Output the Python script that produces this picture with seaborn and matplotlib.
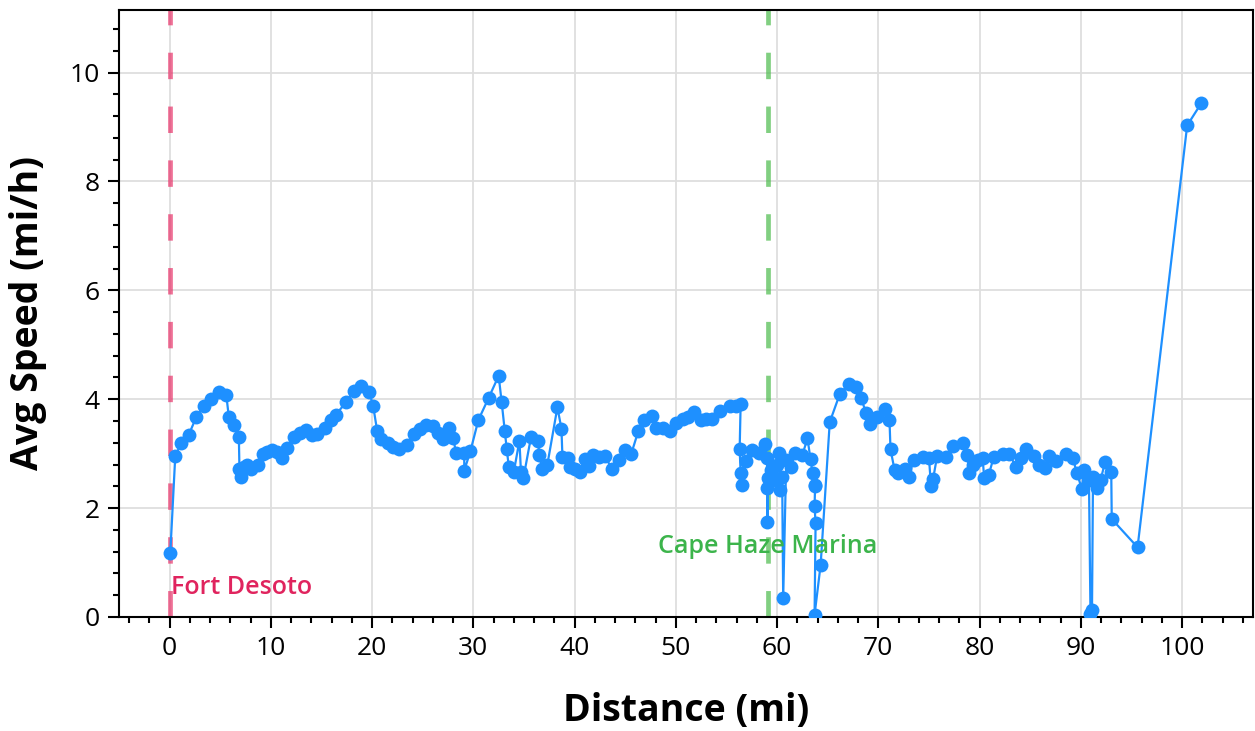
import matplotlib
matplotlib.use("Agg")
import matplotlib.pyplot as plt
from matplotlib.ticker import MultipleLocator
import seaborn as sns

distance_mi = [
    0.07, 0.56, 1.15, 1.9, 2.63, 3.36, 4.1, 4.87, 5.6, 5.85, 6.4, 6.84, 6.9, 7.07,
    7.35, 7.63, 8.06, 8.72, 9.2, 9.6, 10.1, 10.6, 11.1, 11.6, 12.3, 12.9, 13.5,
    14.1, 14.6, 15.3, 15.9, 16.4, 17.4, 18.2, 18.9, 19.7, 20.1, 20.5, 20.9, 21.6,
    22.1, 22.7, 23.4, 24.1, 24.7, 25.3, 26.0, 26.5, 27.0, 27.6, 28.0, 28.3, 29.1,
    29.1, 29.7, 30.5, 31.5, 32.5, 32.8, 33.1, 33.3, 33.5, 34.0, 34.55, 34.7, 34.95,
    35.7, 36.4, 36.5, 36.8, 37.3, 38.3, 38.7, 38.8, 39.3, 39.5, 40.0, 40.5, 41.0,
    41.4, 41.8, 42.4, 43.0, 43.7, 44.4, 45.0, 45.6, 46.3, 46.9, 47.6, 48.0, 48.7,
    49.4, 50.0, 50.7, 51.2, 51.8, 52.5, 53.0, 53.6, 54.4, 55.3, 55.9, 56.4, 56.3,
    56.4, 56.5, 56.9, 57.5, 58.2, 58.8, 59.0, 59.05, 59.05, 59.1, 59.4, 59.7, 60.0,
    60.2, 60.3, 60.5, 60.6, 60.9, 61.4, 61.8, 62.5, 63.0, 63.3, 63.5, 63.7, 63.75,
    63.7, 63.8, 63.7, 64.3, 65.2, 66.2, 67.1, 67.8, 68.3, 68.8, 69.2, 69.9, 70.7,
    71.1, 71.2, 71.6, 71.9, 72.6, 73.0, 73.5, 74.4, 75.0, 75.2, 75.4, 75.8, 76.7,
    77.4, 78.4, 78.8, 79.0, 79.3, 79.8, 80.3, 80.45, 80.9, 81.4, 82.3, 82.9, 83.6,
    84.1, 84.6, 85.4, 85.9, 86.5, 86.9, 87.5, 88.5, 89.2, 89.6, 90.1, 90.3, 90.8,
    90.95, 91.1, 91.2, 91.6, 91.95, 92.4, 93.0, 93.05, 95.6, 100.5, 101.9,
]
avg_speed = [
    1.18, 2.96, 3.19, 3.35, 3.67, 3.88, 4.0, 4.14, 4.08, 3.67, 3.53, 3.30, 2.71, 2.57,
    2.75, 2.79, 2.71, 2.79, 3.0, 3.03, 3.07, 3.03, 2.92, 3.10, 3.30, 3.38, 3.44,
    3.35, 3.36, 3.47, 3.61, 3.71, 3.94, 4.16, 4.25, 4.14, 3.88, 3.42, 3.27, 3.20,
    3.12, 3.08, 3.16, 3.36, 3.45, 3.53, 3.50, 3.38, 3.27, 3.47, 3.28, 3.02, 3.02,
    2.69, 3.04, 3.62, 4.02, 4.43, 3.94, 3.42, 3.08, 2.76, 2.67, 3.24, 2.67, 2.56,
    3.31, 3.24, 2.98, 2.71, 2.79, 3.85, 3.46, 2.93, 2.92, 2.75, 2.72, 2.67, 2.90,
    2.78, 2.98, 2.94, 2.96, 2.71, 2.89, 3.06, 3.00, 3.42, 3.62, 3.69, 3.47, 3.47,
    3.42, 3.56, 3.63, 3.68, 3.76, 3.62, 3.64, 3.63, 3.79, 3.87, 3.88, 3.92, 3.08,
    2.64, 2.43, 2.87, 3.07, 3.02, 3.18, 2.92, 2.36, 1.75, 2.55, 2.70, 2.52, 2.80,
    3.01, 2.33, 2.58, 0.34, 2.89, 2.76, 3.02, 2.98, 3.28, 2.90, 2.64, 2.43, 2.40,
    2.03, 1.72, 0.04, 0.96, 3.58, 4.10, 4.28, 4.23, 4.02, 3.74, 3.55, 3.68, 3.82,
    3.61, 3.08, 2.70, 2.64, 2.71, 2.57, 2.89, 2.94, 2.92, 2.40, 2.53, 2.95, 2.94,
    3.14, 3.19, 2.98, 2.64, 2.79, 2.89, 2.92, 2.55, 2.61, 2.94, 3.00, 3.00, 2.76,
    2.92, 3.08, 2.95, 2.79, 2.73, 2.96, 2.86, 3.00, 2.92, 2.65, 2.35, 2.70, 2.52,
    0.05, 0.12, 2.58, 2.36, 2.52, 2.85, 2.67, 1.80, 1.28, 9.03, 9.44,
]

# Stops along the route
stop_names = ["Fort Desoto", "Cape Haze Marina"]
stop_mi = [0.0, 59.1]

LINE_BLUE = "#1e90ff"
STOP_LINE = ["#e8336a", "#4cbb4c"]
STOP_TEXT = ["#e0245e", "#3cb44b"]

sns.set_theme(style="white")
plt.rcParams["font.family"] = ["Open Sans", "DejaVu Sans"]

fig = plt.figure(figsize=(12.55, 7.31), dpi=100)
ax = fig.add_axes([0.0948, 0.156, 0.9036, 0.8303])

ax.grid(True, which="major", color="#dedede", linewidth=1.3)
ax.set_axisbelow(True)

for pos, lc in zip(stop_mi, STOP_LINE):
    ax.axvline(pos, color=lc, alpha=0.7, linewidth=3.4, dashes=(5.6, 5.8), zorder=1)

# estimator=None: keep every point, the track doubles back on itself
sns.lineplot(x=distance_mi, y=avg_speed, sort=False, estimator=None, ax=ax,
             color=LINE_BLUE, linewidth=1.6, marker="o", markersize=10,
             markeredgewidth=0, zorder=3)

# stop labels
ax.text(stop_mi[0] + 0.15, 0.55, stop_names[0], color=STOP_TEXT[0],
        fontsize=18, fontweight="semibold", ha="left", va="center", zorder=4)
ax.text(stop_mi[1], 1.29, stop_names[1], color=STOP_TEXT[1],
        fontsize=18, fontweight="semibold", ha="center", va="center", zorder=4)

ax.set_xlim(-5, 107)
ax.set_ylim(0, 11.15)
ax.xaxis.set_major_locator(MultipleLocator(10))
ax.xaxis.set_minor_locator(MultipleLocator(2))
ax.yaxis.set_major_locator(MultipleLocator(2))
ax.yaxis.set_minor_locator(MultipleLocator(0.4))
ax.tick_params(which="major", direction="out", length=8, width=1.5,
               labelsize=19, color="black", labelcolor="black",
               bottom=True, left=True, pad=6)
ax.tick_params(which="minor", direction="out", length=4, width=1.5,
               bottom=True, left=True, color="black")

for side in ["left", "bottom", "top", "right"]:
    ax.spines[side].set_color("black")
    ax.spines[side].set_linewidth(1.5)

ax.set_xlabel("Distance (mi)", fontsize=27, fontweight="bold", color="black",
              labelpad=22)
ax.set_ylabel("Avg Speed (mi/h)", fontsize=27, fontweight="bold", color="black",
              labelpad=16)

fig.savefig("out.png", dpi=100)
plt.close(fig)
